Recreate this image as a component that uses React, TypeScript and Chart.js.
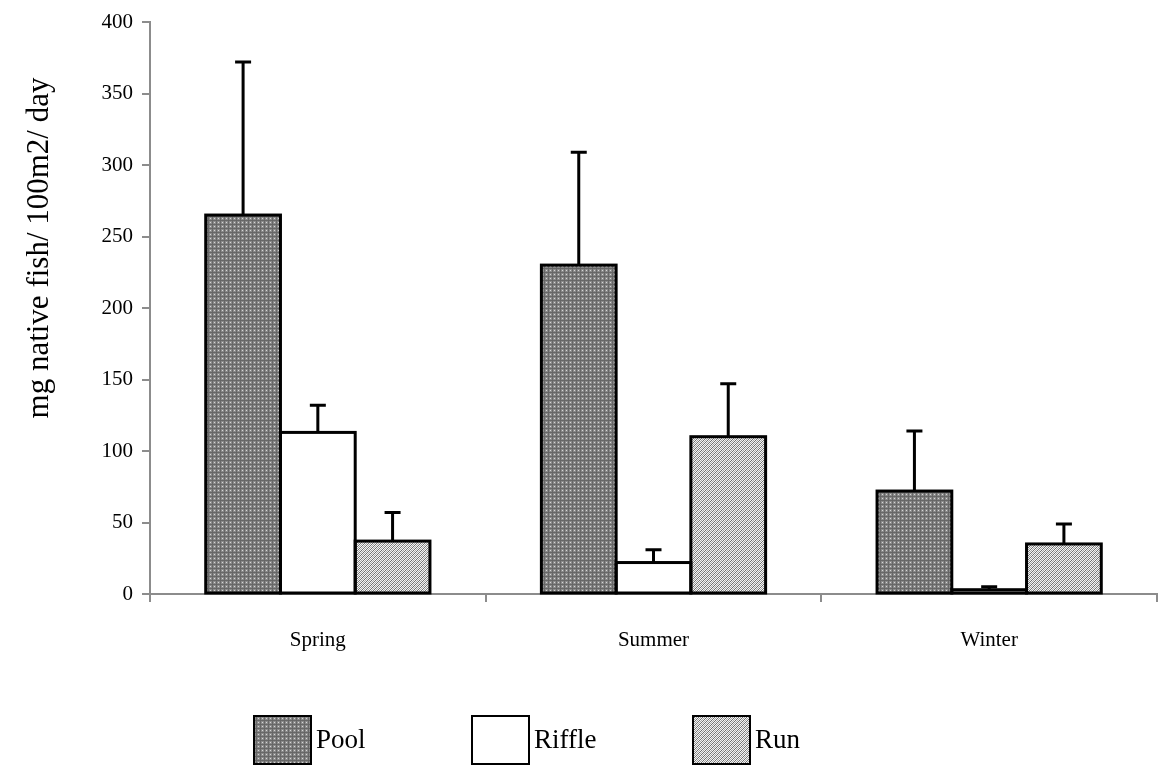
import React, { useEffect, useRef } from "react";
import { Chart, registerables } from "chart.js";

Chart.register(...registerables);

const categories = ["Spring", "Summer", "Winter"];
const seriesNames = ["Pool", "Riffle", "Run"];
const poolValues = [265, 230, 72];
const riffleValues = [113, 22, 3];
const runValues = [37, 110, 35];
const poolErrors = [107, 79, 42];
const riffleErrors = [19, 9, 2];
const runErrors = [20, 37, 14];
const yTicks = [0, 50, 100, 150, 200, 250, 300, 350, 400];
const yTitle = "mg native fish/ 100m2/ day";

const FONT = "'Liberation Serif', 'Times New Roman', serif";

function makePattern(kind: string): CanvasPattern | string {
  const c = document.createElement("canvas");
  c.width = 4;
  c.height = 4;
  const g = c.getContext("2d");
  if (!g) return "#888";
  if (kind === "pool") {
    g.fillStyle = "#8a8a8a";
    g.fillRect(0, 0, 4, 4);
    g.fillStyle = "#676767";
    g.fillRect(0, 0, 4, 1);
    g.fillRect(0, 0, 1, 4);
    g.fillStyle = "#d6d6d6";
    g.fillRect(2, 2, 1, 1);
  } else if (kind === "run") {
    g.fillStyle = "#f4f4f4";
    g.fillRect(0, 0, 4, 4);
    g.fillStyle = "#707070";
    for (let i = 0; i < 4; i++) {
      g.fillRect((3 - i) % 4, i, 1, 1);
    }
    g.fillStyle = "#a4a4a4";
    for (let i = 0; i < 4; i++) {
      g.fillRect((5 - i) % 4, i, 1, 1);
    }
  } else {
    return "#ffffff";
  }
  const p = g.createPattern(c, "repeat");
  return p || "#888";
}

const outlineAndErrorPlugin = {
  id: "outlineAndError",
  afterDatasetsDraw(chart: any) {
    const ctx = chart.ctx;
    const yScale = chart.scales.y;
    chart.data.datasets.forEach((ds: any, di: number) => {
      const meta = chart.getDatasetMeta(di);
      const errs: number[] = ds.errors || [];
      meta.data.forEach((bar: any, i: number) => {
        const props = bar.getProps(["x", "y", "base", "width"], true);
        ctx.save();
        ctx.strokeStyle = "#000";
        ctx.lineWidth = 3;
        ctx.strokeRect(props.x - props.width / 2, props.y, props.width, props.base - props.y);
        ctx.restore();
        const v = ds.data[i];
        const e = errs[i];
        if (e == null) return;
        const x = props.x;
        const y0 = yScale.getPixelForValue(v);
        const y1 = yScale.getPixelForValue(v + e);
        ctx.save();
        ctx.strokeStyle = "#000";
        ctx.lineWidth = 3;
        ctx.beginPath();
        ctx.moveTo(x, y0);
        ctx.lineTo(x, y1);
        ctx.moveTo(x - 8, y1);
        ctx.lineTo(x + 8, y1);
        ctx.stroke();
        ctx.restore();
      });
    });
  },
};

const customDecorPlugin = {
  id: "customDecor",
  afterDraw(chart: any) {
    const ctx = chart.ctx;
    // y-axis title
    ctx.save();
    ctx.translate(40, 248);
    ctx.rotate(-Math.PI / 2);
    ctx.fillStyle = "#000";
    ctx.font = `31px ${FONT}`;
    ctx.textAlign = "center";
    ctx.textBaseline = "middle";
    ctx.fillText(yTitle, 0, 0);
    ctx.restore();

    // legend
    const xs = [254, 472, 693];
    const boxW = 57;
    const boxH = 48;
    const top = 716;
    chart.data.datasets.forEach((ds: any, i: number) => {
      const x = xs[i];
      ctx.save();
      ctx.fillStyle = ds.backgroundColor;
      ctx.fillRect(x, top, boxW, boxH);
      ctx.strokeStyle = "#000";
      ctx.lineWidth = 2;
      ctx.strokeRect(x, top, boxW, boxH);
      ctx.fillStyle = "#000";
      ctx.font = `27px ${FONT}`;
      ctx.textAlign = "left";
      ctx.textBaseline = "middle";
      ctx.fillText(ds.label, x + boxW + 5, top + boxH / 2 + 1);
      ctx.restore();
    });
  },
};

export default function App() {
  const ref = useRef<HTMLCanvasElement | null>(null);

  useEffect(() => {
    if (!ref.current) return;
    const fills = [makePattern("pool"), makePattern("riffle"), makePattern("run")];
    const values = [poolValues, riffleValues, runValues];
    const errors = [poolErrors, riffleErrors, runErrors];
    const chart = new Chart(ref.current, {
      type: "bar",
      data: {
        labels: categories,
        datasets: seriesNames.map((name, i) => ({
          label: name,
          data: values[i],
          errors: errors[i],
          backgroundColor: fills[i] as any,
          borderWidth: 0,
          categoryPercentage: 0.668,
          barPercentage: 1,
        })) as any,
      },
      options: {
        animation: false,
        responsive: true,
        maintainAspectRatio: false,
        layout: { padding: { top: 22, right: 2, left: 0, bottom: 114 } },
        plugins: {
          legend: { display: false },
          tooltip: { enabled: false },
          title: { display: false },
        },
        scales: {
          x: {
            offset: true,
            grid: {
              display: true,
              drawOnChartArea: false,
              drawTicks: true,
              tickLength: 8,
              color: "#8c8c8c",
              lineWidth: 2,
              offset: true,
            },
            border: { display: true, color: "#8c8c8c", width: 2 },
            ticks: {
              color: "#000",
              font: { family: FONT, size: 21 },
              padding: 26,
              maxRotation: 0,
            },
            afterFit(scale: any) {
              scale.height = 60;
            },
          },
          y: {
            min: 0,
            max: 400,
            afterBuildTicks(scale: any) {
              scale.ticks = yTicks.map((v) => ({ value: v }));
            },
            grid: {
              display: true,
              drawOnChartArea: false,
              drawTicks: true,
              tickLength: 8,
              color: "#8c8c8c",
              lineWidth: 2,
            },
            border: { display: true, color: "#8c8c8c", width: 2 },
            ticks: {
              color: "#000",
              font: { family: FONT, size: 21 },
              padding: 9,
            },
            afterFit(scale: any) {
              scale.width = 150;
            },
          },
        },
      },
      plugins: [outlineAndErrorPlugin, customDecorPlugin],
    });
    return () => chart.destroy();
  }, []);

  return (
    <div style={{ position: "absolute", left: 0, top: 0, width: 1159, height: 768, background: "#fff" }}>
      <canvas ref={ref} />
    </div>
  );
}
